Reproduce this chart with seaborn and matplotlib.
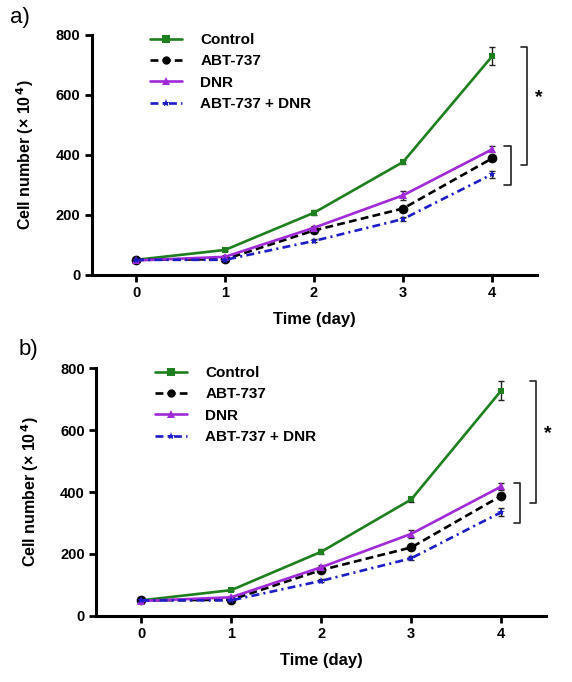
import matplotlib
matplotlib.use('Agg')
import matplotlib.pyplot as plt
import seaborn as sns
import pandas as pd


days = [0, 1, 2, 3, 4]
groups = ['Control', 'ABT-737', 'DNR', 'ABT-737 + DNR']

control = [50, 83, 207, 376, 728]
abt737 = [50, 52, 148, 221, 388]
dnr = [48, 60, 157, 265, 418]
abt_dnr = [50, 50, 113, 186, 335]

control_err = [3, 4, 8, 8, 30]
abt737_err = [3, 3, 6, 7, 8]
dnr_err = [3, 4, 6, 14, 10]
abt_dnr_err = [3, 3, 5, 6, 12]

yticks = [0, 200, 400, 600, 800]

colors = {'Control': '#1d7f1d', 'ABT-737': '#000000',
          'DNR': '#a02ad8', 'ABT-737 + DNR': '#1c1cc8'}
dashes = {'Control': '', 'ABT-737': (3, 1.6),
          'DNR': '', 'ABT-737 + DNR': (3, 1.6, 0.8, 1.6)}
markers = {'Control': 's', 'ABT-737': 'o', 'DNR': '^', 'ABT-737 + DNR': '*'}
msizes = {'Control': 5, 'ABT-737': 7, 'DNR': 6, 'ABT-737 + DNR': 6}


'''DataFrame'''

values = [control, abt737, dnr, abt_dnr]
errors = [control_err, abt737_err, dnr_err, abt_dnr_err]
rows = []
for g, vals, errs in zip(groups, values, errors):
    for d, v, e in zip(days, vals, errs):
        rows.append({'day': d, 'cells': v, 'err': e, 'group': g})
df = pd.DataFrame(rows)


sns.set_theme(style='ticks', rc={'text.color': 'black',
                                 'axes.labelcolor': 'black',
                                 'axes.edgecolor': 'black',
                                 'xtick.color': 'black',
                                 'ytick.color': 'black'})
plt.rcParams['font.family'] = ['Liberation Sans', 'DejaVu Sans']
plt.rcParams['font.weight'] = 'bold'
plt.rcParams['axes.labelweight'] = 'bold'


def draw_panel(ax, letter, letter_pos):
    sns.lineplot(data=df, x='day', y='cells', hue='group', style='group',
                 hue_order=groups, style_order=groups, palette=colors,
                 dashes=dashes, markers=markers, markersize=6,
                 markeredgewidth=0, linewidth=1.9, ax=ax, legend='full')
    for line, g in zip(ax.get_lines(), groups):
        line.set_markersize(msizes[g])
    for g in groups:
        sub = df[df['group'] == g]
        ax.errorbar(sub['day'], sub['cells'], yerr=sub['err'], fmt='none',
                    ecolor='#222222', elinewidth=1, capsize=2.5, capthick=1,
                    zorder=1)

    ax.set_xlim(-0.5, 4.5)
    ax.set_ylim(0, 800)
    ax.set_xticks(days)
    ax.set_yticks(yticks)
    ax.set_xlabel('Time (day)', fontsize=12, fontweight='bold', labelpad=9)
    ax.set_ylabel('Cell number (× 10$^{\\,4}$)', fontsize=11.5,
                  fontweight='bold', labelpad=14)
    ax.tick_params(axis='both', labelsize=10.5, width=2, length=5,
                   direction='out', pad=3)
    for t in ax.get_xticklabels() + ax.get_yticklabels():
        t.set_fontweight('bold')
    sns.despine(ax=ax)
    for s in ['left', 'bottom']:
        ax.spines[s].set_linewidth(2.2)

    leg = ax.legend(loc='upper left', bbox_to_anchor=(0.1, 1.065), frameon=False,
                    fontsize=11, handlelength=2.1, labelspacing=0.48,
                    handletextpad=1.2)
    for t in leg.get_texts():
        t.set_fontweight('bold')
    for h in leg.legend_handles:
        h.set_linewidth(1.9)

    # significance brackets
    kw = dict(color='#222222', lw=1.2, clip_on=False)
    ax.plot([4.32, 4.39, 4.39, 4.32], [760, 760, 366, 366], **kw)
    ax.plot([4.14, 4.21, 4.21, 4.14], [428, 428, 300, 300], **kw)
    ax.text(4.52, 590, '*', fontsize=14, fontweight='bold', ha='center',
            va='center', clip_on=False)

    ax.figure.text(letter_pos[0], letter_pos[1], letter, fontsize=16,
                   fontweight='normal', ha='left', va='center')


fig = plt.figure(figsize=(5.72, 6.82), dpi=100)
ax_a = fig.add_axes([0.160, 0.597, 0.778, 0.352])
ax_b = fig.add_axes([0.168, 0.097, 0.787, 0.363])

draw_panel(ax_a, 'a)', (0.018, 0.975))
draw_panel(ax_b, 'b)', (0.032, 0.488))

fig.savefig('out.png', dpi=100, facecolor='white')
